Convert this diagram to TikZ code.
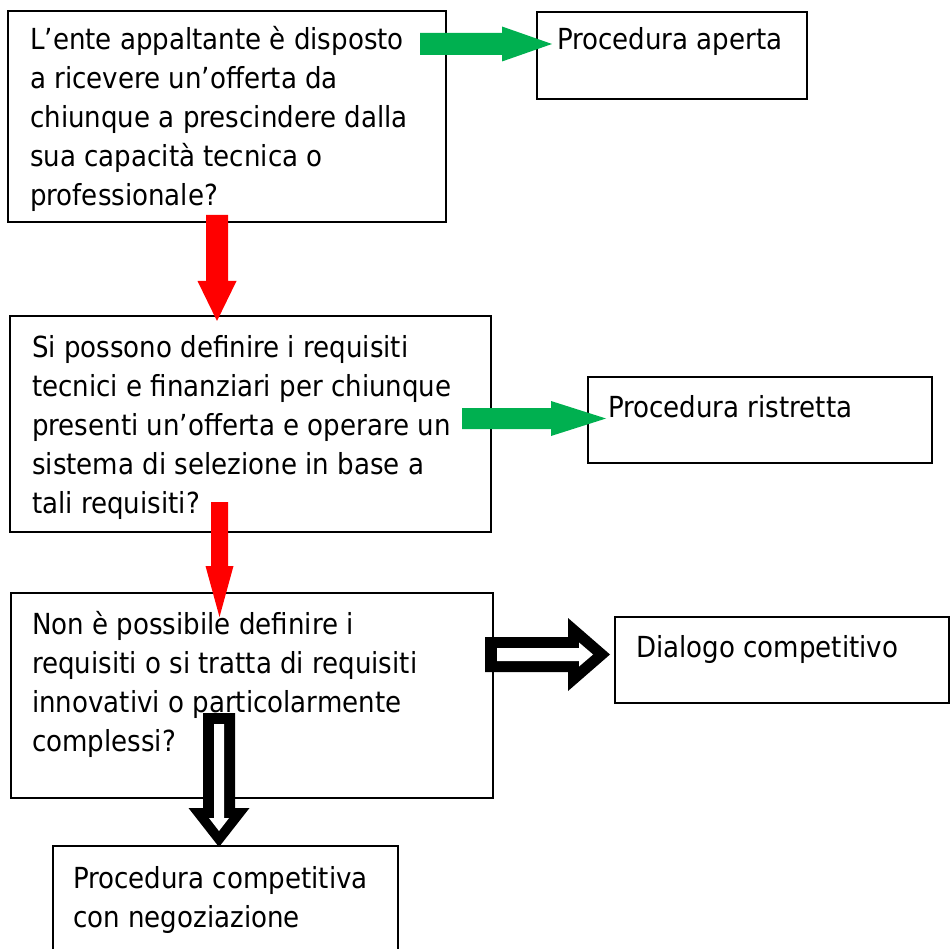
\documentclass[tikz,border=0pt]{standalone}
\usepackage{fontspec}
\setmainfont{DejaVu Sans Condensed}
\usepackage{tikz}
\usetikzlibrary{calc}
\definecolor{yesgreen}{RGB}{0,176,80}
\definecolor{nored}{RGB}{255,0,0}
\tikzset{
  box/.style={draw,line width=2pt,inner sep=0pt,anchor=north west},
  txt/.style={anchor=base west,align=left,inner sep=0pt,font=\fontsize{29}{39}\selectfont},
  yes/.style={fill=yesgreen},
  no/.style={fill=nored},
  hol/.style={fill=black},
  holin/.style={fill=white}
}
% fat arrows: style, from, to, shaft half, head half, head length
\newcommand\harrow[6]{%
  \fill[#1] let \p1=(#2), \p2=(#3) in
    (\x1,\y1+#4pt) -- (\x2-#6pt,\y1+#4pt) -- (\x2-#6pt,\y1+#5pt) -- (\x2,\y1)
    -- (\x2-#6pt,\y1-#5pt) -- (\x2-#6pt,\y1-#4pt) -- (\x1,\y1-#4pt) -- cycle;}
\newcommand\varrow[6]{%
  \fill[#1] let \p1=(#2), \p2=(#3) in
    (\x1-#4pt,\y1) -- (\x1-#4pt,\y2+#6pt) -- (\x1-#5pt,\y2+#6pt) -- (\x1,\y2)
    -- (\x1+#5pt,\y2+#6pt) -- (\x1+#4pt,\y2+#6pt) -- (\x1+#4pt,\y1) -- cycle;}
\begin{document}
\begin{tikzpicture}[x=1pt,y=-1pt]
\useasboundingbox (0,0) rectangle (950,949);
\clip (0,0) rectangle (950,949);
% questions
\node[box,minimum width=438pt,minimum height=211pt] (q1) at (7,10) {};
\node[box,minimum width=481pt,minimum height=216pt] (q2) at (9,315) {};
\node[box,minimum width=482pt,minimum height=205pt] (q3) at (10,592) {};
% answers
\node[box,minimum width=270pt,minimum height=87pt] (a1) at (536,11) {};
\node[box,minimum width=344pt,minimum height=86pt] (a2) at (587,376) {};
\node[box,minimum width=334pt,minimum height=86pt] (a3) at (614,616) {};
\node[box,minimum width=345pt,minimum height=130pt] (a4) at (52,845) {};
% texts (placed at the baseline of their last line)
\node[txt] (t1) at (30,206) {L’ente appaltante è disposto\\a ricevere un’offerta da\\chiunque a prescindere dalla\\sua capacità tecnica o\\professionale?};
\node[txt] (t2) at (32,513) {Si possono definire i requisiti\\tecnici e finanziari per chiunque\\presenti un’offerta e operare un\\sistema di selezione in base a\\tali requisiti?};
\node[txt] (t3) at (32,751) {Non è possibile definire i\\requisiti o si tratta di requisiti\\innovativi o particolarmente\\complessi?};
\node[txt] (u1) at (557,50) {Procedura aperta};
\node[txt] (u2) at (608,417) {Procedura ristretta};
\node[txt] (u3) at (636,657) {Dialogo competitivo};
\node[txt] (u4) at (73,927) {Procedura competitiva\\con negoziazione};
% arrow ends
\coordinate (g1s) at (420,44);   \coordinate (g1e) at (552,44);
\coordinate (g2s) at (462,418.5); \coordinate (g2e) at (606,418.5);
\coordinate (r1s) at (217,215);  \coordinate (r1e) at (217,321);
\coordinate (r2s) at (219.5,502); \coordinate (r2e) at (219.5,617);
\coordinate (b1s) at (485,654.5); \coordinate (b1e) at (610,654.5);
\coordinate (b2s) at (219,713);  \coordinate (b2e) at (219,847);
% yes
\harrow{yes}{g1s}{g1e}{11}{17.5}{50}
\harrow{yes}{g2s}{g2e}{10.5}{17.5}{55}
% no
\varrow{no}{r1s}{r1e}{11}{19.5}{40}
\varrow{no}{r2s}{r2e}{8.5}{14}{51}
% hollow ones
\harrow{hol}{b1s}{b1e}{17.5}{36.5}{42}
\harrow{holin}{[xshift=12pt]b1s}{[xshift=-17pt]b1e}{6.5}{12}{14}
\varrow{hol}{b2s}{b2e}{16}{30.5}{39}
\varrow{holin}{[yshift=-11pt]b2s}{[yshift=16pt]b2e}{5}{10}{13}
\end{tikzpicture}
\end{document}
